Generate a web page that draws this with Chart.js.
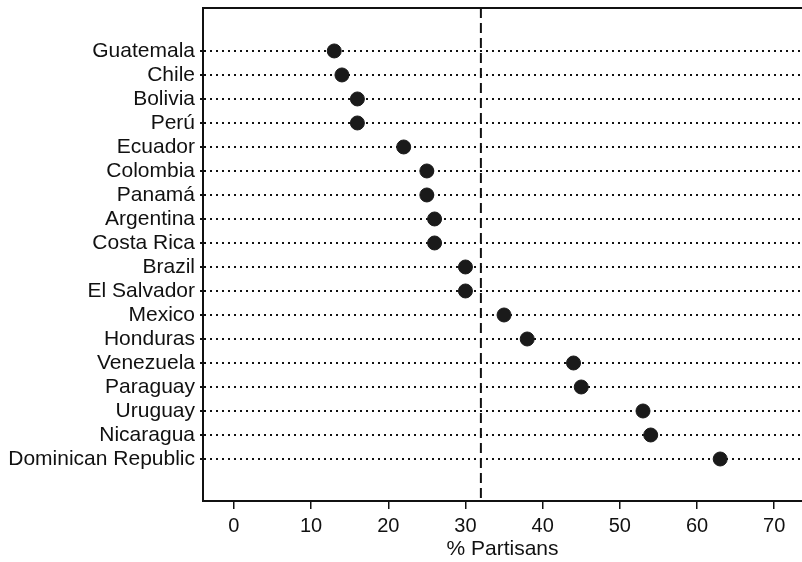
<!DOCTYPE html>
<html>
<head>
<meta charset="utf-8">
<script src="https://cdn.jsdelivr.net/npm/chart.js@4.4.0/dist/chart.umd.min.js"></script>
<style>
  html, body { margin: 0; padding: 0; background: #fff; }
  canvas { display: block; }
</style>
</head>
<body>
<canvas id="chart" width="802" height="562"></canvas>
<script>
// Datos: % de partidarios por país
const countries = ['Guatemala', 'Chile', 'Bolivia', 'Perú', 'Ecuador', 'Colombia', 'Panamá',
  'Argentina', 'Costa Rica', 'Brazil', 'El Salvador', 'Mexico', 'Honduras', 'Venezuela',
  'Paraguay', 'Uruguay', 'Nicaragua', 'Dominican Republic'];
const partisans = [13, 14, 16, 16, 22, 25, 25, 26, 26, 30, 30, 35, 38, 44, 45, 53, 54, 63];
const meanLine = [32];
const xTicks = [0, 10, 20, 30, 40, 50, 60, 70];

const yMin = -1.79, yMax = 18.75;
const font = "'Liberation Sans', Arial, Helvetica, sans-serif";

const points = partisans.map((v, i) => ({ x: v, y: i }));
const meanPts = [{ x: meanLine[0], y: yMin }, { x: meanLine[0], y: yMax }];

// quitar el relleno automático que Chart.js agrega para las etiquetas
const noPad = s => { s.paddingTop = 0; s.paddingBottom = 0; s.paddingLeft = 0; s.paddingRight = 0; };

const ctx = document.getElementById('chart').getContext('2d');
new Chart(ctx, {
  data: {
    datasets: [{
      type: 'scatter',
      data: points,
      backgroundColor: '#1a1a1a',
      borderColor: '#1a1a1a',
      pointRadius: 7,
      pointHoverRadius: 7,
      order: 1
    }, {
      type: 'line',
      data: meanPts,
      borderColor: '#111',
      borderWidth: 2,
      borderDash: [10, 5],
      pointRadius: 0,
      fill: false,
      order: 2
    }]
  },
  options: {
    responsive: false,
    animation: false,
    layout: { padding: 0, autoPadding: false },
    plugins: { legend: { display: false }, tooltip: { enabled: false } },
    scales: {
      x: {
        type: 'linear',
        position: 'bottom',
        min: -4,
        max: 73.6,
        afterBuildTicks: s => { s.ticks = xTicks.map(v => ({ value: v })); },
        afterFit: s => { s.height = 61; noPad(s); },
        grid: { drawOnChartArea: false, drawTicks: true, tickLength: 8, color: '#111', lineWidth: 1.5 },
        border: { display: true, color: '#111', width: 2 },
        ticks: { color: '#111', font: { family: font, size: 20 }, padding: 5, maxRotation: 0 },
        title: { display: true, text: '% Partisans', color: '#111', font: { family: font, size: 21 }, padding: { top: 0, bottom: 0 } }
      },
      x2: {
        type: 'linear',
        position: 'top',
        afterFit: s => { s.height = 8; noPad(s); },
        ticks: { display: false },
        grid: { display: false, drawTicks: false },
        border: { display: true, color: '#111', width: 2 }
      },
      y: {
        type: 'linear',
        reverse: true,
        min: yMin,
        max: yMax,
        afterBuildTicks: s => { s.ticks = countries.map((c, i) => ({ value: i })); },
        afterFit: s => { s.width = 203; noPad(s); },
        grid: { drawOnChartArea: true, drawTicks: true, tickLength: 3, color: '#111', lineWidth: 2 },
        border: { display: true, color: '#111', width: 2, dash: [2, 4] },
        ticks: {
          color: '#111',
          font: { family: font, size: 21 },
          padding: 5,
          callback: v => countries[v]
        }
      }
    }
  }
});
</script>
</body>
</html>
